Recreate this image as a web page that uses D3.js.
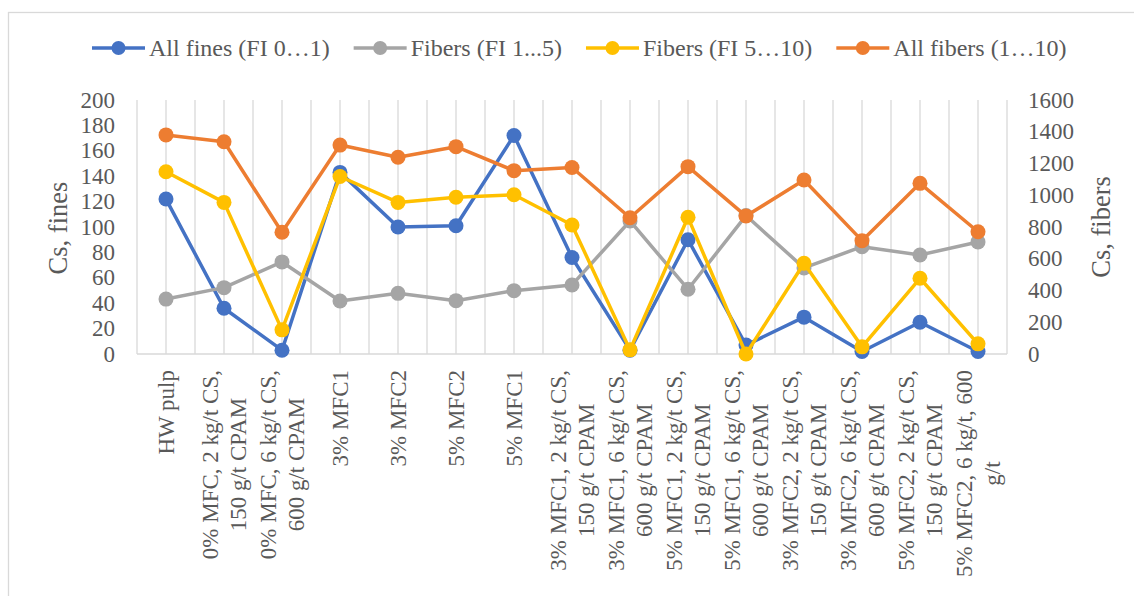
<!DOCTYPE html>
<html>
<head>
<meta charset="utf-8">
<script src="https://cdn.jsdelivr.net/npm/d3@7"></script>
<style>
  html, body { margin: 0; padding: 0; background: #fff; }
  svg { display: block; }
  text { font-family: "Liberation Serif", "Times New Roman", serif; fill: #595959; }
</style>
</head>
<body>
<svg id="chart" width="1134" height="596" font-family="Liberation Serif"></svg>
<script>
// Sample categories (line breaks mark the wrapped axis labels)
const categories = [
  "HW pulp",
  "0% MFC, 2 kg/t CS,\n150 g/t CPAM",
  "0% MFC, 6 kg/t CS,\n600 g/t CPAM",
  "3% MFC1",
  "3% MFC2",
  "5% MFC2",
  "5% MFC1",
  "3% MFC1, 2 kg/t CS,\n150 g/t CPAM",
  "3% MFC1, 6 kg/t CS,\n600 g/t CPAM",
  "5% MFC1, 2 kg/t CS,\n150 g/t CPAM",
  "5% MFC1, 6 kg/t CS,\n600 g/t CPAM",
  "3% MFC2, 2 kg/t CS,\n150 g/t CPAM",
  "3% MFC2, 6 kg/t CS,\n600 g/t CPAM",
  "5% MFC2, 2 kg/t CS,\n150 g/t CPAM",
  "5% MFC2, 6 kg/t, 600\ng/t"
];

// Cs of fines (left axis)
const allFines   = [122, 36, 3, 143, 100, 101, 172, 76, 3, 90, 7, 29, 2, 25, 2];
// Cs of fiber fractions (right axis)
const fibers1to5  = [346, 418, 580, 334, 382, 336, 399, 435, 838, 408, 872, 542, 676, 624, 706];
const fibers5to10 = [1148, 955, 152, 1118, 955, 987, 1003, 813, 26, 861, 0, 572, 45, 477, 64];
const allFibers   = [1380, 1337, 767, 1316, 1239, 1306, 1155, 1175, 858, 1180, 869, 1096, 714, 1075, 770];

const leftTicks  = [0, 20, 40, 60, 80, 100, 120, 140, 160, 180, 200];
const rightTicks = [0, 200, 400, 600, 800, 1000, 1200, 1400, 1600];

const seriesNames  = ["All fines (FI 0\u20261)", "Fibers (FI 1...5)", "Fibers (FI 5\u202610)", "All fibers (1\u202610)"];
const seriesColors = ["#4472C4", "#A5A5A5", "#FFC000", "#ED7D31"];

const series = [
  { name: seriesNames[0], color: seriesColors[0], values: allFines,    axis: "left" },
  { name: seriesNames[1], color: seriesColors[1], values: fibers1to5,  axis: "right" },
  { name: seriesNames[2], color: seriesColors[2], values: fibers5to10, axis: "right" },
  { name: seriesNames[3], color: seriesColors[3], values: allFibers,   axis: "right" }
];

const svg = d3.select("#chart");
const FS = 23;
const plot = { left: 137, right: 1007, top: 100, bottom: 354 };

// outer frame
svg.append("rect")
  .attr("x", 8.5).attr("y", 12.5)
  .attr("width", 1140).attr("height", 600)
  .attr("fill", "none").attr("stroke", "#d9d9d9").attr("stroke-width", 1.3);

const x = d3.scaleBand().domain(d3.range(categories.length))
  .range([plot.left, plot.right]).padding(0);
const yL = d3.scaleLinear().domain([0, 200]).range([plot.bottom, plot.top]);
const yR = d3.scaleLinear().domain([0, 1600]).range([plot.bottom, plot.top]);
const cx = i => x(i) + x.bandwidth() / 2;

// vertical gridlines at band edges and centres
const gridPos = [];
categories.forEach((c, i) => { gridPos.push(x(i)); gridPos.push(cx(i)); });
gridPos.push(plot.right);
svg.append("g").selectAll("line").data(gridPos).join("line")
  .attr("x1", d => d).attr("x2", d => d)
  .attr("y1", plot.top).attr("y2", plot.bottom)
  .attr("stroke", "#d9d9d9").attr("stroke-width", 1.3);

// category axis line
svg.append("line")
  .attr("x1", plot.left).attr("x2", plot.right)
  .attr("y1", plot.bottom).attr("y2", plot.bottom)
  .attr("stroke", "#d9d9d9").attr("stroke-width", 1.5);

// left value axis labels
svg.append("g").selectAll("text").data(leftTicks).join("text")
  .attr("x", 115).attr("y", d => yL(d))
  .attr("text-anchor", "end").attr("dominant-baseline", "central")
  .style("font-size", FS + "px").text(d => d);

// right value axis labels
svg.append("g").selectAll("text").data(rightTicks).join("text")
  .attr("x", 1028).attr("y", d => yR(d))
  .attr("text-anchor", "start").attr("dominant-baseline", "central")
  .style("font-size", FS + "px").text(d => d);

// axis titles
svg.append("text")
  .attr("transform", "translate(58,228) rotate(-90)")
  .attr("text-anchor", "middle").attr("dominant-baseline", "central")
  .style("font-size", "26.5px").text("Cs, fines");
svg.append("text")
  .attr("transform", "translate(1101,227) rotate(-90)")
  .attr("text-anchor", "middle").attr("dominant-baseline", "central")
  .style("font-size", "26.5px").text("Cs, fibers");

// rotated category labels, lines centred within each label block
const lineGap = 28;
const labelG = svg.append("g");
categories.forEach((c, i) => {
  const lines = c.split("\n");
  const g = labelG.append("g").attr("transform", `translate(${cx(i)},370) rotate(-90)`);
  const texts = lines.map((ln, k) => g.append("text")
    .style("font-size", FS + "px")
    .attr("text-anchor", "middle")
    .attr("dominant-baseline", "central")
    .attr("y", (k - (lines.length - 1) / 2) * lineGap)
    .text(ln));
  const w = d3.max(texts, t => t.node().getComputedTextLength());
  texts.forEach(t => t.attr("x", -w / 2));
});

// series lines and markers
series.forEach(s => {
  const y = s.axis === "left" ? yL : yR;
  const line = d3.line().x((d, i) => cx(i)).y(d => y(d));
  const g = svg.append("g");
  g.append("path").datum(s.values)
    .attr("d", line).attr("fill", "none")
    .attr("stroke", s.color).attr("stroke-width", 3.5)
    .attr("stroke-linejoin", "round");
  g.selectAll("circle").data(s.values).join("circle")
    .attr("cx", (d, i) => cx(i)).attr("cy", d => y(d))
    .attr("r", 7.5).attr("fill", s.color);
});

// legend
let lx = 92;
const ly = 48;
series.forEach(s => {
  const g = svg.append("g");
  g.append("line").attr("x1", lx).attr("x2", lx + 53)
    .attr("y1", ly).attr("y2", ly)
    .attr("stroke", s.color).attr("stroke-width", 3.5);
  g.append("circle").attr("cx", lx + 26.5).attr("cy", ly).attr("r", 7).attr("fill", s.color);
  const t = g.append("text").attr("x", lx + 57).attr("y", ly)
    .attr("dominant-baseline", "central")
    .style("font-size", "24px").text(s.name);
  lx = lx + 57 + t.node().getComputedTextLength() + 24;
});
</script>
</body>
</html>
